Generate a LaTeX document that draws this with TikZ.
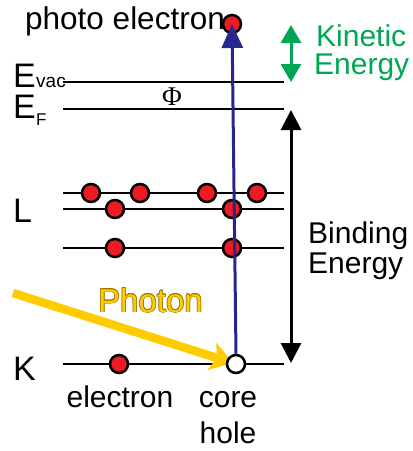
\documentclass[tikz,border=0pt]{standalone}
\usepackage{fontspec}
\setmainfont{Liberation Sans}
\newfontfamily\phifont{Liberation Serif}
\usetikzlibrary{arrows.meta}
\definecolor{ered}{RGB}{237,28,36}
\definecolor{kgreen}{RGB}{0,166,81}
\definecolor{pyellow}{RGB}{255,204,0}
\definecolor{pedge}{RGB}{150,115,0}
\definecolor{eblue}{RGB}{38,38,140}
\begin{document}
\begin{tikzpicture}[x=1pt,y=-1pt,
  level/.style={line width=2.5pt},
  elec/.style={circle,draw=black,fill=ered,line width=2.5pt,minimum size=18pt,inner sep=0pt},
  holestyle/.style={elec,fill=white},
  lbl/.style={inner sep=0pt,anchor=base west,font=\fontsize{30}{30}\selectfont},
  clbl/.style={inner sep=0pt,anchor=base,font=\fontsize{30}{30}\selectfont},
  biglbl/.style={inner sep=0pt,anchor=base west,font=\fontsize{34}{34}\selectfont},
  sublbl/.style={inner sep=0pt,anchor=base west,font=\fontsize{19}{19}\selectfont},
  phlbl/.style={inner sep=0pt,anchor=base west,font=\fontsize{33}{33}\selectfont},
  dblarrow/.style={line width=3pt,{Triangle[length=20pt,width=20pt]}-{Triangle[length=20pt,width=20pt]}},
]
\useasboundingbox (0,0) rectangle (413,451);
% energy levels
\coordinate (vacL) at (63,82);  \coordinate (vacR) at (284,82);
\coordinate (fL) at (63,109);   \coordinate (fR) at (284,109);
\coordinate (l1L) at (63,193);  \coordinate (l1R) at (284,193);
\coordinate (l2L) at (63,209);  \coordinate (l2R) at (284,209);
\coordinate (l3L) at (63,248);  \coordinate (l3R) at (284,248);
\coordinate (kL) at (63,364);   \coordinate (kR) at (284,364);
\foreach \a/\b in {vacL/vacR,fL/fR,l1L/l1R,l2L/l2R,l3L/l3R,kL/kR}
  \draw[level] (\a) -- (\b);
% photon
\coordinate (holec) at (236,364);
\coordinate (phstart) at (13,293);
\draw[pyellow,line width=8.5pt,shorten >=3pt,-{Stealth[length=22pt,width=28pt,inset=5pt]}] (phstart) -- (holec);
% electrons
\node[elec] (e11) at (91,193) {};
\node[elec] (e12) at (140,193) {};
\node[elec] (e13) at (207,193) {};
\node[elec] (e14) at (257,193) {};
\node[elec] (e21) at (115,209) {};
\node[elec] (e22) at (232,209) {};
\node[elec] (e31) at (115,248) {};
\node[elec] (e32) at (232,248) {};
\node[elec] (ek) at (119,364) {};
\node[holestyle] (hole) at (holec) {};
\node[elec] (pe) at (232,24) {};
% emission arrow
\draw[eblue,line width=3pt,-{Triangle[length=24pt,width=21pt]}] (hole.north) -- (pe.center);
% energy arrows
\coordinate (kinT) at (291,25);  \coordinate (kinB) at (291,82);
\draw[kgreen,dblarrow,{Triangle[length=18pt,width=20pt]}-{Triangle[length=18pt,width=20pt]}] (kinT) -- (kinB);
\coordinate (binT) at (291,110); \coordinate (binB) at (291,363);
\draw[black,dblarrow] (binT) -- (binB);
% labels
\node[lbl,font=\fontsize{31.5}{31.5}\selectfont] (tpe) at (25,29) {photo electron};
\node[lbl,text=kgreen] (tkin1) at (316,46) {Kinetic};
\node[lbl,text=kgreen] (tkin2) at (314,74) {Energy};
\node[lbl] (tbin1) at (308,243) {Binding};
\node[lbl] (tbin2) at (308,273) {Energy};
\node[biglbl] (tE1) at (13,87) {E};
\node[sublbl] (tvac) at (36,87) {vac};
\node[biglbl] (tE2) at (13,118) {E};
\node[inner sep=0pt,anchor=base west,font=\fontsize{17}{17}\selectfont] (tF) at (36,125) {F};
\node[inner sep=0pt,anchor=base,font=\phifont\fontsize{27}{27}\selectfont] (tphi) at (172,105) {Φ};
\node[biglbl] (tL) at (13,222) {L};
\node[biglbl] (tK) at (13,380) {K};
\node[clbl] (tel) at (120,407) {electron};
\node[clbl] (tcore) at (228,407) {core};
\node[clbl] (thole) at (228,443) {hole};
\foreach \dx/\dy in {0.7/0,-0.7/0,0/0.7,0/-0.7,0.5/0.5,-0.5/0.5,0.5/-0.5,-0.5/-0.5}
  \node[phlbl,text=pedge] at (98+\dx,312+\dy) {Photon};
\node[phlbl,text=pyellow] (tph) at (98,312) {Photon};
\end{tikzpicture}
\end{document}
